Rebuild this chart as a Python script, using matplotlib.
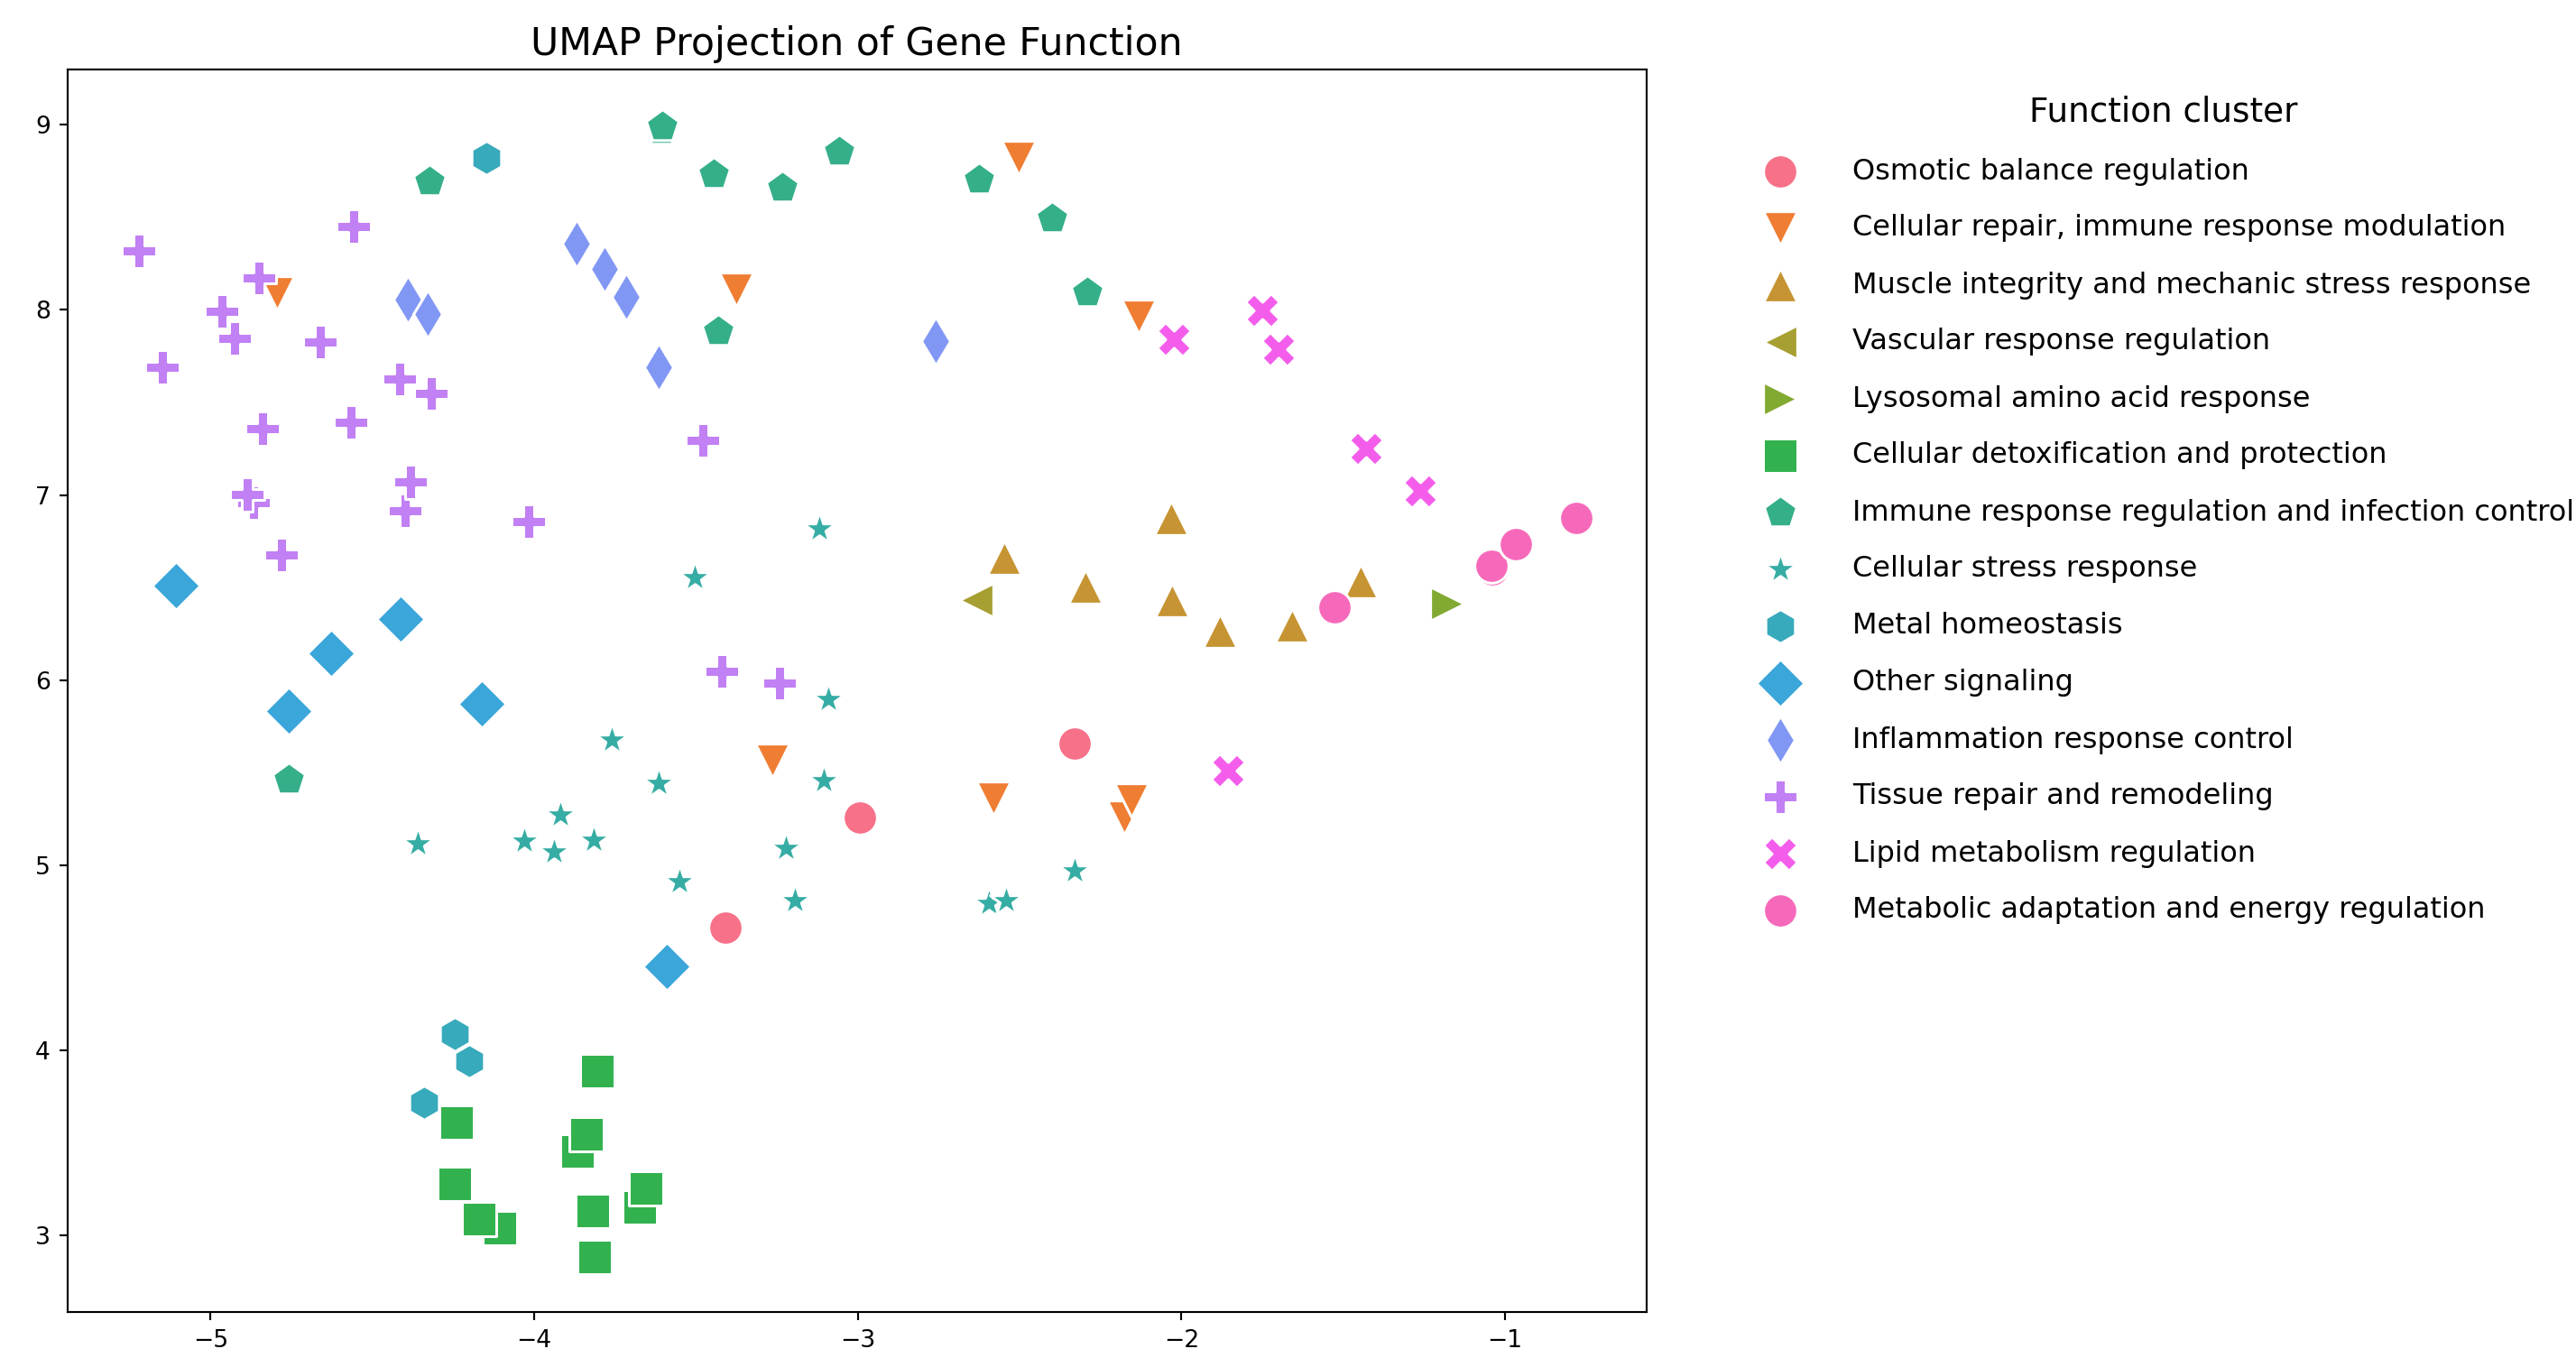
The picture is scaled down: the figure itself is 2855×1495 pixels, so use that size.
import matplotlib
matplotlib.use("Agg")
import matplotlib.pyplot as plt
import seaborn as sns

categories = [
    "Osmotic balance regulation",
    "Cellular repair, immune response modulation",
    "Muscle integrity and mechanic stress response",
    "Vascular response regulation",
    "Lysosomal amino acid response",
    "Cellular detoxification and protection",
    "Immune response regulation and infection control",
    "Cellular stress response",
    "Metal homeostasis",
    "Other signaling",
    "Inflammation response control",
    "Tissue repair and remodeling",
    "Lipid metabolism regulation",
    "Metabolic adaptation and energy regulation",
]

osmotic_x = [-3.409, -2.993, -2.330]
osmotic_y = [4.662, 5.258, 5.659]

repair_x = [-4.794, -2.503, -3.376, -2.133, -3.264, -2.582, -2.176, -2.155]
repair_y = [8.088, 8.819, 8.110, 7.962, 5.565, 5.360, 5.258, 5.351]

muscle_x = [-2.547, -2.297, -2.031, -2.029, -1.880, -1.658, -1.446]
muscle_y = [6.663, 6.506, 6.876, 6.433, 6.265, 6.298, 6.534]

vascular_x = [-2.634]
vascular_y = [6.431]

lysosomal_x = [-1.179]
lysosomal_y = [6.415]

detox_x = [-3.805, -3.865, -3.838, -4.239, -4.246, -4.107, -4.171,
           -3.818, -3.813, -3.675, -3.654]
detox_y = [3.889, 3.456, 3.548, 3.609, 3.278, 3.039, 3.091,
           3.131, 2.884, 3.152, 3.254]

immune_x = [-3.608, -3.603, -3.446, -3.233, -3.057, -2.626, -2.399,
            -2.290, -3.431, -4.324, -4.759]
immune_y = [8.970, 8.992, 8.735, 8.661, 8.857, 8.705, 8.496,
            8.093, 7.885, 8.692, 5.463]

stress_x = [-4.360, -4.032, -3.939, -3.919, -3.815, -3.760, -3.615, -3.092,
            -3.104, -3.221, -3.551, -3.194, -2.596, -2.542, -2.329, -3.118, -3.505]
stress_y = [5.119, 5.130, 5.073, 5.273, 5.134, 5.679, 5.444, 5.898,
            5.457, 5.091, 4.913, 4.808, 4.793, 4.810, 4.969, 6.816, 6.555]

metal_x = [-4.149, -4.245, -4.201, -4.341]
metal_y = [8.822, 4.087, 3.944, 3.719]

signal_x = [-5.108, -4.413, -4.629, -4.760, -4.163, -3.590]
signal_y = [6.509, 6.328, 6.145, 5.833, 5.874, 4.455]

inflam_x = [-4.390, -4.329, -3.868, -3.782, -3.715, -3.616, -2.759]
inflam_y = [8.058, 7.977, 8.356, 8.221, 8.071, 7.688, 7.832]

tissue_x = [-5.221, -4.559, -4.850, -4.964, -4.927, -5.149, -4.662, -4.417,
            -4.318, -4.840, -4.567, -4.400, -4.381, -4.867, -4.888, -4.018,
            -4.781, -3.478, -3.421, -3.243]
tissue_y = [8.321, 8.450, 8.175, 7.990, 7.847, 7.692, 7.829, 7.627,
            7.549, 7.359, 7.392, 6.915, 7.070, 6.961, 7.002, 6.859,
            6.676, 7.296, 6.047, 5.982]

lipid_x = [-2.022, -1.751, -1.699, -1.428, -1.262, -1.855]
lipid_y = [7.840, 7.997, 7.790, 7.251, 7.020, 5.510]

metabolic_x = [-1.528, -1.038, -1.043, -0.967, -0.780]
metabolic_y = [6.393, 6.598, 6.617, 6.733, 6.876]

xs = [osmotic_x, repair_x, muscle_x, vascular_x, lysosomal_x, detox_x, immune_x,
      stress_x, metal_x, signal_x, inflam_x, tissue_x, lipid_x, metabolic_x]
ys = [osmotic_y, repair_y, muscle_y, vascular_y, lysosomal_y, detox_y, immune_y,
      stress_y, metal_y, signal_y, inflam_y, tissue_y, lipid_y, metabolic_y]

markers = ['o', 'v', '^', '<', '>', 's', 'p', '*', 'h', 'D', 'd', 'P', 'X', 'o']
colors = sns.color_palette("husl", len(categories))

DPI = 192
W, H = 2855, 1495
fig = plt.figure(figsize=(W / DPI, H / DPI), dpi=DPI)
left, right, top, bottom = 74.6, 1825.0, 76.7, 1454.2
ax = fig.add_axes([left / W, 1 - bottom / H, (right - left) / W, (bottom - top) / H])

s = 200
lw = 0.08 * s ** 0.5
handles = []
for cat, x, y, m, c in zip(categories, xs, ys, markers, colors):
    h = ax.scatter(x, y, s=s, marker=m, color=c, edgecolor='white',
                   linewidth=lw, label=cat)
    handles.append(h)

ax.set_xlim(-5.443, -0.562)
ax.set_ylim(2.586, 9.300)
ax.set_title("UMAP Projection of Gene Function", fontsize=16)

ax.legend(handles=handles, labels=categories, title="Function cluster",
          bbox_to_anchor=(1.05, 1), loc='upper left', frameon=False,
          fontsize=12, title_fontsize=14, labelspacing=1.0,
          handletextpad=1.5, scatterpoints=1)

fig.savefig("out.png", dpi=DPI)
